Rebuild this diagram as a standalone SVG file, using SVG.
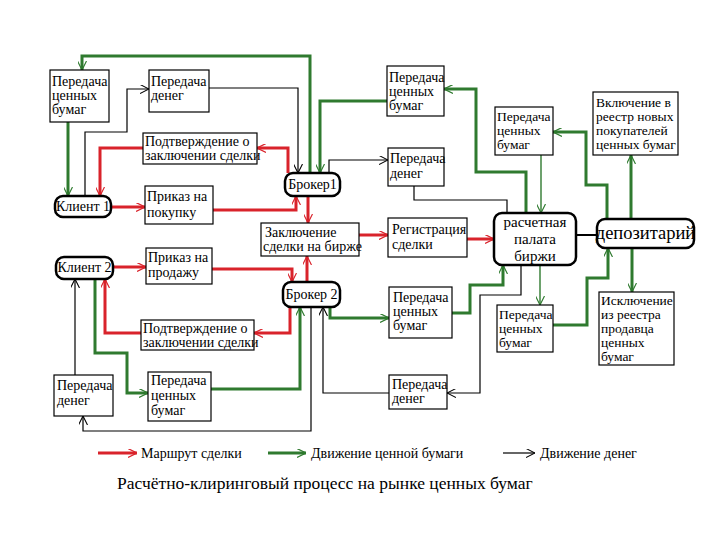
<svg xmlns="http://www.w3.org/2000/svg" width="720" height="540" viewBox="0 0 720 540">
<defs>
<marker id="ar" viewBox="0 0 10 10" refX="10" refY="5" markerWidth="9" markerHeight="9" markerUnits="userSpaceOnUse" orient="auto"><path d="M0,0 L10,5 L0,10" fill="none" stroke="#d9232b" stroke-width="1.3"/></marker>
<marker id="ag" viewBox="0 0 10 10" refX="10" refY="5" markerWidth="9" markerHeight="9" markerUnits="userSpaceOnUse" orient="auto"><path d="M0,0 L10,5 L0,10" fill="none" stroke="#2f7a2f" stroke-width="1.3"/></marker>
<marker id="ak" viewBox="0 0 10 10" refX="10" refY="5" markerWidth="9" markerHeight="9" markerUnits="userSpaceOnUse" orient="auto"><path d="M0,0 L10,5 L0,10" fill="none" stroke="#000" stroke-width="1.2"/></marker>
</defs>
<rect width="720" height="540" fill="#fff"/>

<g id="connectors" fill="none">
<g stroke="#2f7a2f" stroke-width="3" marker-end="url(#ag)">
<path d="M310,173 V56 H82 V70"/>
<path d="M68,122 V196"/>
<path d="M387,101 H320 V173"/>
<path d="M526,213 V172 H476 V89 H444"/>
<path d="M607,219 V185 H586 V132 H553"/>
<path d="M631,219 V155"/>
<path d="M632,248 V292"/>
<path d="M553,325 H587 V278 H608 V248"/>
<path d="M540,265 V305" stroke-width="1.4"/>
<path d="M541,155 V213" stroke-width="1.4"/>
<path d="M330,307 V318 H389"/>
<path d="M452,313 H470 V285 H503 V265"/>
<path d="M211,389 H300 V307"/>
<path d="M95,279 V353 H127 V393 H148"/>
</g>
<g stroke="#d9232b" stroke-width="3" marker-end="url(#ar)">
<path d="M111,207 H145"/>
<path d="M213,210 H296 V196"/>
<path d="M288,173 V148 H257"/>
<path d="M143,148 H100 V196"/>
<path d="M308,196 V223"/>
<path d="M307,282 V256"/>
<path d="M359,235 H388"/>
<path d="M467,239 H494"/>
<path d="M113,267 H146"/>
<path d="M212,269 H292 V282"/>
<path d="M290,307 V333 H254"/>
<path d="M141,333 H105 V279"/>
</g>
<g stroke="#000" stroke-width="1.2" marker-end="url(#ak)">
<path d="M85,196 V132 H127 V89 H149"/>
<path d="M209,88 H298 V173"/>
<path d="M329,173 V160 H388"/>
<path d="M414,186 V200 H507 V213" marker-end="none"/>
<path d="M576,235 H597" stroke-width="2" marker-end="none"/>
<path d="M521,265 V295 H480 V393 H447"/>
<path d="M389,393 H323 V307"/>
<path d="M311,307 V431 H83 V416"/>
<path d="M75,375 V279"/>
</g>
</g>

<g id="nodes">
<g id="n1"><rect fill="#fff" stroke="#000" stroke-width="1.2" x="50" y="70" width="59" height="52"/><text font-family="Liberation Serif" font-size="14" x="52" y="86">Передача</text><text font-family="Liberation Serif" font-size="14" x="52" y="100">ценных</text><text font-family="Liberation Serif" font-size="14" x="52" y="114">бумаг</text></g>
<g id="n2"><rect fill="#fff" stroke="#000" stroke-width="1.2" x="149" y="70" width="60" height="42"/><text font-family="Liberation Serif" font-size="14" x="151" y="86">Передача</text><text font-family="Liberation Serif" font-size="14" x="151" y="100">денег</text></g>
<g id="n3"><rect fill="#fff" stroke="#000" stroke-width="1.2" x="143" y="133" width="114" height="31"/><text font-family="Liberation Serif" font-size="14" x="145" y="146">Подтверждение о</text><text font-family="Liberation Serif" font-size="14" x="145" y="160">заключении сделки</text></g>
<g id="n4"><rect fill="#fff" stroke="#000" stroke-width="2.5" x="55" y="196" width="56" height="21" rx="8"/><text font-family="Liberation Serif" font-size="14" text-anchor="middle" x="83" y="211">Клиент 1</text></g>
<g id="n5"><rect fill="#fff" stroke="#000" stroke-width="1.2" x="145" y="186" width="68" height="38"/><text font-family="Liberation Serif" font-size="14" x="147" y="201">Приказ на</text><text font-family="Liberation Serif" font-size="14" x="147" y="217">покупку</text></g>
<g id="n6"><rect fill="#fff" stroke="#000" stroke-width="2.5" x="56" y="257" width="57" height="22" rx="8"/><text font-family="Liberation Serif" font-size="14" text-anchor="middle" x="84.5" y="272">Клиент 2</text></g>
<g id="n7"><rect fill="#fff" stroke="#000" stroke-width="1.2" x="146" y="248" width="66" height="36"/><text font-family="Liberation Serif" font-size="14" x="148" y="262">Приказ на</text><text font-family="Liberation Serif" font-size="14" x="148" y="277">продажу</text></g>
<g id="n8"><rect fill="#fff" stroke="#000" stroke-width="1.2" x="141" y="320" width="113" height="30"/><text font-family="Liberation Serif" font-size="14" x="143" y="333">Подтверждение о</text><text font-family="Liberation Serif" font-size="14" x="143" y="347">заключении сделки</text></g>
<g id="n9"><rect fill="#fff" stroke="#000" stroke-width="1.2" x="54" y="375" width="59" height="41"/><text font-family="Liberation Serif" font-size="14" x="57" y="390">Передача</text><text font-family="Liberation Serif" font-size="14" x="57" y="405">денег</text></g>
<g id="n10"><rect fill="#fff" stroke="#000" stroke-width="1.2" x="148" y="372" width="63" height="49"/><text font-family="Liberation Serif" font-size="14" x="151" y="385">Передача</text><text font-family="Liberation Serif" font-size="14" x="151" y="400">ценных</text><text font-family="Liberation Serif" font-size="14" x="151" y="415">бумаг</text></g>
<g id="n11"><rect fill="#fff" stroke="#000" stroke-width="2.5" x="285" y="173" width="55" height="23" rx="8"/><text font-family="Liberation Serif" font-size="14" text-anchor="middle" x="312.5" y="189">Брокер1</text></g>
<g id="n12"><rect fill="#fff" stroke="#000" stroke-width="1.2" x="387" y="66" width="57" height="50"/><text font-family="Liberation Serif" font-size="14" x="389" y="82">Передача</text><text font-family="Liberation Serif" font-size="14" x="389" y="96">ценных</text><text font-family="Liberation Serif" font-size="14" x="389" y="110">бумаг</text></g>
<g id="n13"><rect fill="#fff" stroke="#000" stroke-width="1.2" x="388" y="148" width="56" height="38"/><text font-family="Liberation Serif" font-size="14" x="390" y="163">Передача</text><text font-family="Liberation Serif" font-size="14" x="390" y="178">денег</text></g>
<g id="n14"><rect fill="#fff" stroke="#000" stroke-width="1.2" x="261" y="223" width="98" height="33"/><text font-family="Liberation Serif" font-size="14" x="265" y="237">Заключение</text><text font-family="Liberation Serif" font-size="14" x="263" y="251">сделки на бирже</text></g>
<g id="n15"><rect fill="#fff" stroke="#000" stroke-width="1.2" x="388" y="218" width="79" height="39"/><text font-family="Liberation Serif" font-size="14" x="392" y="234">Регистрация</text><text font-family="Liberation Serif" font-size="14" x="392" y="249">сделки</text></g>
<g id="n16"><rect fill="#fff" stroke="#000" stroke-width="2.5" x="283" y="282" width="57" height="25" rx="8"/><text font-family="Liberation Serif" font-size="14" text-anchor="middle" x="311.5" y="299">Брокер 2</text></g>
<g id="n17"><rect fill="#fff" stroke="#000" stroke-width="1.2" x="389" y="287" width="63" height="51"/><text font-family="Liberation Serif" font-size="14" x="393" y="302">Передача</text><text font-family="Liberation Serif" font-size="14" x="393" y="316">ценных</text><text font-family="Liberation Serif" font-size="14" x="393" y="330">бумаг</text></g>
<g id="n18"><rect fill="#fff" stroke="#000" stroke-width="1.2" x="389" y="375" width="58" height="34"/><text font-family="Liberation Serif" font-size="14" x="392" y="389">Передача</text><text font-family="Liberation Serif" font-size="14" x="392" y="403">денег</text></g>
<g id="n19"><rect fill="#fff" stroke="#000" stroke-width="2.5" x="494" y="213" width="82" height="52" rx="8"/><text font-family="Liberation Serif" font-size="15" text-anchor="middle" x="535" y="226.5">расчетная</text><text font-family="Liberation Serif" font-size="15" text-anchor="middle" x="535" y="243.8">палата</text><text font-family="Liberation Serif" font-size="15" text-anchor="middle" x="535" y="261">биржи</text></g>
<g id="n20"><rect fill="#fff" stroke="#000" stroke-width="2.5" x="597" y="219" width="97" height="29" rx="8"/><text font-family="Liberation Serif" font-size="18.5" text-anchor="middle" x="645.5" y="239">депозитарий</text></g>
<g id="n21"><rect fill="#fff" stroke="#000" stroke-width="1.2" x="495" y="107" width="58" height="48"/><text font-family="Liberation Serif" font-size="13.5" x="497" y="121">Передача</text><text font-family="Liberation Serif" font-size="13.5" x="497" y="135">ценных</text><text font-family="Liberation Serif" font-size="13.5" x="497" y="149">бумаг</text></g>
<g id="n22"><rect fill="#fff" stroke="#000" stroke-width="1.2" x="593" y="92" width="85" height="63"/><text font-family="Liberation Serif" font-size="13.5" x="596" y="107">Включение в</text><text font-family="Liberation Serif" font-size="13.5" x="596" y="121">реестр новых</text><text font-family="Liberation Serif" font-size="13.5" x="596" y="135">покупателей</text><text font-family="Liberation Serif" font-size="13.5" x="596" y="149">ценных бумаг</text></g>
<g id="n23"><rect fill="#fff" stroke="#000" stroke-width="1.2" x="497" y="305" width="56" height="47"/><text font-family="Liberation Serif" font-size="13.5" x="499" y="319">Передача</text><text font-family="Liberation Serif" font-size="13.5" x="499" y="333">ценных</text><text font-family="Liberation Serif" font-size="13.5" x="499" y="347">бумаг</text></g>
<g id="n24"><rect fill="#fff" stroke="#000" stroke-width="1.2" x="599" y="292" width="75" height="73"/><text font-family="Liberation Serif" font-size="13.5" x="601" y="305">Исключение</text><text font-family="Liberation Serif" font-size="13.5" x="601" y="319">из реестра</text><text font-family="Liberation Serif" font-size="13.5" x="601" y="333">продавца</text><text font-family="Liberation Serif" font-size="13.5" x="601" y="347">ценных</text><text font-family="Liberation Serif" font-size="13.5" x="601" y="361">бумаг</text></g>
</g>

<g id="legend">
<path d="M98,453 H137" fill="none" stroke="#d9232b" stroke-width="3" marker-end="url(#ar)"/><text font-family="Liberation Serif" font-size="14" x="141" y="458">Маршрут сделки</text>
<path d="M268,453 H306" fill="none" stroke="#2f7a2f" stroke-width="3" marker-end="url(#ag)"/><text font-family="Liberation Serif" font-size="14" x="311" y="458">Движение ценной бумаги</text>
<path d="M503,453 H535" fill="none" stroke="#000" stroke-width="1.2" marker-end="url(#ak)"/><text font-family="Liberation Serif" font-size="14" x="540" y="458">Движение денег</text>
</g>
<text font-family="Liberation Serif" font-size="17.5" x="117" y="489">Расчётно-клиринговый процесс на рынке ценных бумаг</text>
</svg>
